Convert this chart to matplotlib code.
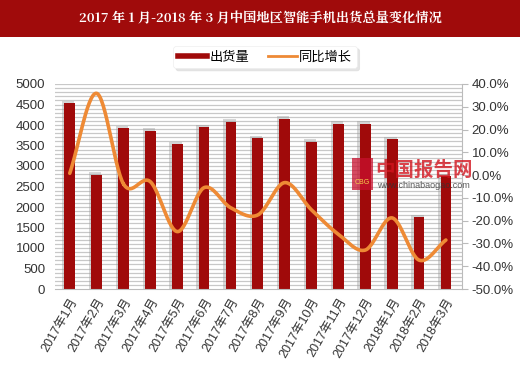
import numpy as np
import matplotlib
matplotlib.use("Agg")
import matplotlib.pyplot as plt
from matplotlib.patches import Rectangle
from matplotlib.lines import Line2D

plt.rcParams['font.family'] = ['Liberation Sans', 'Noto Sans CJK SC', 'DejaVu Sans']

title = "2017 年 1 月-2018 年 3 月中国地区智能手机出货总量变化情况"
categories = ["2017年1月", "2017年2月", "2017年3月", "2017年4月", "2017年5月",
              "2017年6月", "2017年7月", "2017年8月", "2017年9月", "2017年10月",
              "2017年11月", "2017年12月", "2018年1月", "2018年2月", "2018年3月"]
shipments = [4529, 2788, 3927, 3861, 3537, 3951, 4081, 3683, 4154, 3593,
             4032, 4032, 3650, 1748, 2750]
yoy = [0.8, 35.9, -3.9, -2.9, -24.8, -5.5, -14.4, -17.5, -3.3, -15.3,
       -26.0, -32.9, -18.8, -37.3, -28.5]
left_ticks = [0, 500, 1000, 1500, 2000, 2500, 3000, 3500, 4000, 4500, 5000]
right_ticks = [-50, -40, -30, -20, -10, 0, 10, 20, 30, 40]

BAR = "#a00a0a"
LINE = "#ee8a35"

def smooth(x, y, n=30):
    # Catmull-Rom rendering of a smoothed line (Excel-like)
    x = np.asarray(x, float); y = np.asarray(y, float)
    px = np.concatenate([[2*x[0]-x[1]], x, [2*x[-1]-x[-2]]])
    py = np.concatenate([[2*y[0]-y[1]], y, [2*y[-1]-y[-2]]])
    xs, ys = [], []
    t = np.linspace(0, 1, n)
    for i in range(1, len(px)-2):
        p0, p1, p2, p3 = (np.array([px[j], py[j]]) for j in range(i-1, i+3))
        for tt in t:
            pt = 0.5*((2*p1) + (-p0+p2)*tt + (2*p0-5*p1+4*p2-p3)*tt**2 + (-p0+3*p1-3*p2+p3)*tt**3)
            xs.append(pt[0]); ys.append(pt[1])
    return np.array(xs), np.array(ys)

fig = plt.figure(figsize=(5.2, 3.68), dpi=100)
fig.patch.set_facecolor("white")

# title banner
fig.patches.append(Rectangle((0, 1-37/368), 1, 37/368, transform=fig.transFigure,
                             facecolor="#a00b0b", edgecolor="none", zorder=0))
fig.text(0.5, 1-18.5/368, title, color="white", fontsize=9.5, fontweight="bold",
         ha="center", va="center", family=['Noto Serif CJK SC', 'Noto Sans CJK SC', 'DejaVu Sans'])

ax = fig.add_axes([55/520, 1-289/368, (462-55)/520, (289-84)/368])
x = np.arange(len(categories))
ax.set_xlim(-0.55, len(categories)-1+0.6)
ax.set_ylim(0, 5000)

# striped background
for v in range(100, 5001, 100):
    ax.axhline(v, color="#c8c8c8", lw=0.9, zorder=0)

# bar shadows
ax.bar(x - 0.06, np.array(shipments) + 60, width=0.46, color="#9a9a9a", alpha=0.4, zorder=1)
ax.bar(x, shipments, width=0.4, color=BAR, zorder=2)

ax.set_yticks(left_ticks)
ax.set_yticklabels([str(t) for t in left_ticks], fontsize=9.5, color="#333333")
ax.tick_params(axis='y', length=0, pad=7)
ax.set_xticks(x)
ax.set_xticklabels(categories, rotation=60, ha="right", rotation_mode="anchor",
                   fontsize=9, color="#333333",
                   family=['Liberation Sans', 'Noto Sans CJK SC'])
ax.tick_params(axis='x', length=0, pad=5)
for s in ["top", "right", "left"]:
    ax.spines[s].set_visible(False)
ax.spines["bottom"].set_color("#bbbbbb")

ax2 = ax.twinx()
ax2.set_ylim(-50, 40)
ax2.set_yticks(right_ticks)
ax2.set_yticklabels([f"{t:.1f}%" for t in right_ticks], fontsize=9.5, color="#333333")
ax2.tick_params(axis='y', length=4, color="#bbbbbb", pad=3)
for s in ["top", "left", "bottom"]:
    ax2.spines[s].set_visible(False)
ax2.spines["right"].set_color("#bbbbbb")
sx, sy = smooth(x, yoy)
ax2.plot(sx, sy, color=LINE, lw=2.6, zorder=3, solid_capstyle="round")

# watermark
fig.patches.append(Rectangle((352/520, 1-190/368), 21/520, 32/368, transform=fig.transFigure,
                             facecolor="#c8102e", edgecolor="none", alpha=0.75, zorder=5))
fig.text(362.5/520, 1-183/368, "CBG", color="#f6d04d", fontsize=5, ha="center", va="center", zorder=6)
fig.text(375/520, 1-170/368, "中国报告网", color="#d2141e", fontsize=14, fontweight="bold",
         ha="left", va="center", alpha=0.8, family=['Noto Sans CJK SC'], zorder=6)
fig.text(377/520, 1-186/368, "www.chinabaogao.com", color="#333333", fontsize=6.5,
         ha="left", va="center", alpha=0.8, zorder=6)

# legend
handles = [Line2D([0], [0], color=BAR, lw=4), Line2D([0], [0], color=LINE, lw=2)]
leg = fig.legend(handles, ["出货量", "同比增长"], loc="center", bbox_to_anchor=(265/520, 1-57/368),
                 ncol=2, frameon=True, handlelength=2.2, handletextpad=0.2,
                 columnspacing=1.4, borderpad=0.35,
                 shadow={'color': '0.85', 'alpha': 0.7},
                 prop={'family': ['Noto Sans CJK SC'], 'size': 9.5})
leg.get_frame().set_edgecolor("#eeeeee")
leg.get_frame().set_linewidth(0.5)

fig.savefig("out.png", dpi=100, facecolor="white")
